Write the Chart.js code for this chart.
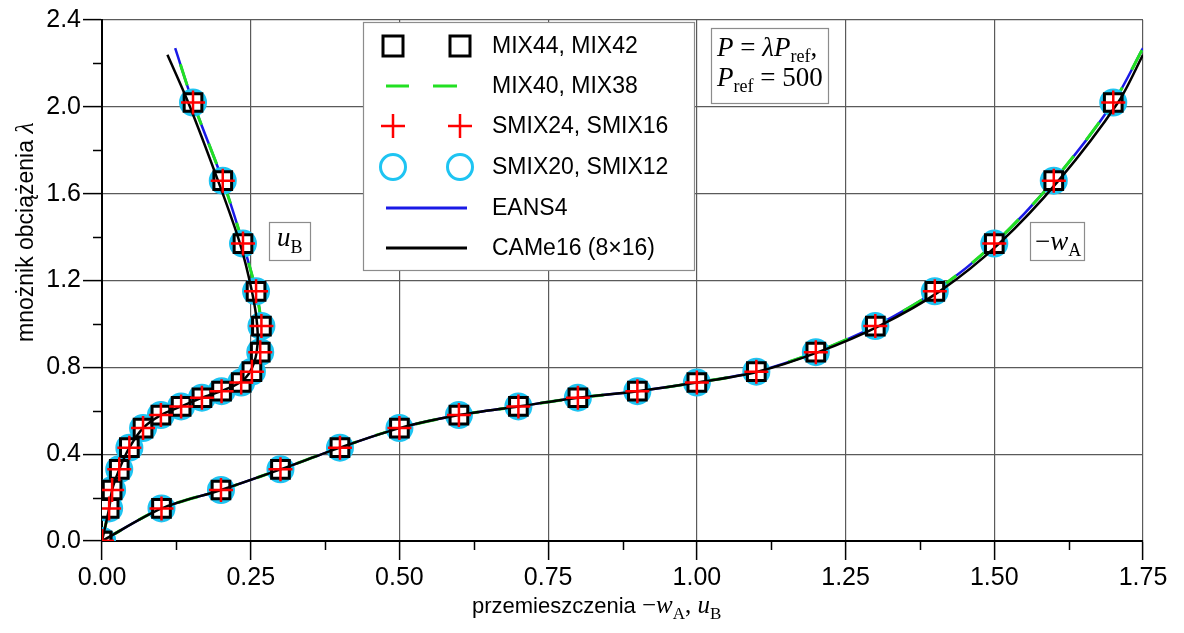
<!DOCTYPE html>
<html>
<head>
<meta charset="utf-8">
<script src="https://cdn.jsdelivr.net/npm/chart.js@4.4.0/dist/chart.umd.min.js"></script>
<style>
  html, body { margin: 0; padding: 0; background: #fff; }
</style>
</head>
<body>
<canvas id="wykres" width="1184" height="633"></canvas>
<script>
// mnożnik obciążenia w punktach pomiarowych (wspólny dla obu krzywych)
const lambda = [0, 0.15, 0.235, 0.33, 0.43, 0.52, 0.58, 0.62, 0.66, 0.69, 0.73, 0.78, 0.87, 0.99, 1.15, 1.37, 1.66, 2.02];
// przemieszczenia -wA i uB w tych punktach
const wA = [0, 0.1, 0.2, 0.3, 0.4, 0.5, 0.6, 0.7, 0.8, 0.9, 1.0, 1.1, 1.2, 1.3, 1.4, 1.5, 1.6, 1.7];
const uB = [0, 0.012, 0.017, 0.029, 0.046, 0.069, 0.099, 0.133, 0.168, 0.201, 0.234, 0.252, 0.266, 0.268, 0.259, 0.237, 0.203, 0.153];

// EANS4 / MIX40 - ta sama ścieżka, przedłużona do końca wykresu
const lambdaEans = [0, 0.15, 0.235, 0.33, 0.43, 0.52, 0.58, 0.62, 0.66, 0.69, 0.73, 0.78, 0.87, 0.99, 1.15, 1.37, 1.66, 2.02, 2.27];
const wAEans = [0, 0.1, 0.2, 0.3, 0.4, 0.5, 0.6, 0.7, 0.8, 0.9, 1.0, 1.1, 1.2, 1.3, 1.4, 1.5, 1.6, 1.7, 1.75];
const uBEans = [0, 0.012, 0.017, 0.029, 0.046, 0.069, 0.099, 0.133, 0.168, 0.201, 0.234, 0.252, 0.266, 0.268, 0.259, 0.237, 0.203, 0.153, 0.123];

// CAMe16 (8x16)
const lambdaCam = [0, 0.15, 0.235, 0.33, 0.43, 0.52, 0.58, 0.62, 0.66, 0.69, 0.73, 0.78, 0.87, 0.99, 1.15, 1.37, 1.66, 2.02, 2.24];
const wACam = [0, 0.1, 0.2, 0.3, 0.4, 0.5, 0.6, 0.7, 0.8, 0.9, 1.0, 1.102, 1.204, 1.306, 1.408, 1.508, 1.608, 1.708, 1.75];
const uBCam = [0, 0.012, 0.017, 0.029, 0.046, 0.069, 0.099, 0.133, 0.168, 0.200, 0.232, 0.249, 0.260, 0.261, 0.252, 0.232, 0.195, 0.145, 0.110];

// podziałki osi
const xTicks = [0, 0.25, 0.5, 0.75, 1.0, 1.25, 1.5, 1.75];
const yTicks = [0, 0.4, 0.8, 1.2, 1.6, 2.0, 2.4];
const xMinor = [0.125, 0.375, 0.625, 0.875, 1.125, 1.375, 1.625];
const yMinor = [0.2, 0.6, 1.0, 1.4, 1.8, 2.2];

const legendLabels = ["MIX44, MIX42", "MIX40, MIX38", "SMIX24, SMIX16", "SMIX20, SMIX12", "EANS4", "CAMe16 (8×16)"];

const SANS = '"Liberation Sans", Arial, sans-serif';
const SERIF = '"Liberation Serif", "Times New Roman", serif';
const CYJAN = "#1ec4f2";

function pary(xs, ys) {
  return xs.map((x, i) => ({ x: x, y: ys[i] }));
}

function punkty(label, xs, style, extra) {
  return Object.assign({
    label: label,
    data: pary(xs, lambda),
    showLine: false,
    pointStyle: style
  }, extra);
}

function linia(label, xs, ys, extra) {
  return Object.assign({
    label: label,
    data: pary(xs, ys),
    showLine: true,
    pointRadius: 0,
    tension: 0.3,
    fill: false
  }, extra);
}

const kwadrat = { pointRadius: 12.5, borderColor: "#000", backgroundColor: "#fff", pointBorderWidth: 3, borderWidth: 3, order: 3 };
const kolko = { pointRadius: 12.5, borderColor: CYJAN, backgroundColor: CYJAN, pointBorderWidth: 3, borderWidth: 3, order: 4 };
const krzyzyk = { pointRadius: 12, borderColor: "#ff0000", backgroundColor: "#ff0000", pointBorderWidth: 2.5, borderWidth: 2.5, order: 0 };

const datasets = [
  punkty("SMIX20 -wA", wA, "circle", kolko),
  punkty("SMIX12 uB", uB, "circle", kolko),
  linia("EANS4 -wA", wAEans, lambdaEans, { borderColor: "#1a1ae6", borderWidth: 2.5, order: 6 }),
  linia("EANS4 uB", uBEans, lambdaEans, { borderColor: "#1a1ae6", borderWidth: 2.5, order: 6 }),
  linia("MIX40 -wA", wAEans, lambdaEans, { borderColor: "#22e022", borderWidth: 3, borderDash: [22, 20], order: 5 }),
  linia("MIX38 uB", uBEans, lambdaEans, { borderColor: "#22e022", borderWidth: 3, borderDash: [22, 20], order: 5 }),
  punkty("MIX44 -wA", wA, "rect", kwadrat),
  punkty("MIX42 uB", uB, "rect", kwadrat),
  linia("CAMe16 -wA", wACam, lambdaCam, { borderColor: "#000", borderWidth: 2.5, order: 1 }),
  linia("CAMe16 uB", uBCam, lambdaCam, { borderColor: "#000", borderWidth: 2.5, order: 1 }),
  punkty("SMIX24 -wA", wA, "cross", krzyzyk),
  punkty("SMIX16 uB", uB, "cross", krzyzyk)
];

// rysuje tekst złożony z kawałków (kursywa, indeksy dolne)
function tekst(ctx, x, y, czesci) {
  czesci.forEach(c => {
    ctx.font = c.font;
    ctx.fillText(c.t, x, y + (c.dy || 0));
    x += ctx.measureText(c.t).width;
  });
}

function ramka(ctx, x, y, w, h) {
  ctx.save();
  ctx.fillStyle = "#fff";
  ctx.fillRect(x, y, w, h);
  ctx.strokeStyle = "#8c8c8c";
  ctx.lineWidth = 1.2;
  ctx.strokeRect(x + 0.5, y + 0.5, w, h);
  ctx.restore();
}

const dodatki = {
  id: "dodatki",
  afterDraw(chart) {
    const ctx = chart.ctx;
    const sx = chart.scales.x, sy = chart.scales.y;
    const a = chart.chartArea;
    ctx.save();

    // podziałka pomocnicza
    ctx.strokeStyle = "#000";
    ctx.lineWidth = 1.5;
    ctx.beginPath();
    xMinor.forEach(v => {
      const px = Math.round(sx.getPixelForValue(v)) + 0.5;
      ctx.moveTo(px, a.bottom);
      ctx.lineTo(px, a.bottom + 9);
    });
    yMinor.forEach(v => {
      const py = Math.round(sy.getPixelForValue(v)) + 0.5;
      ctx.moveTo(a.left, py);
      ctx.lineTo(a.left - 9, py);
    });
    ctx.stroke();

    // tytuły osi
    ctx.fillStyle = "#000";
    ctx.textBaseline = "alphabetic";
    ctx.textAlign = "left";
    tekst(ctx, 472, 613, [
      { t: "przemieszczenia ", font: "22px " + SANS },
      { t: "−", font: "25px " + SERIF },
      { t: "w", font: "italic 25px " + SERIF },
      { t: "A", font: "17px " + SERIF, dy: 6 },
      { t: ", ", font: "25px " + SERIF },
      { t: "u", font: "italic 25px " + SERIF },
      { t: "B", font: "17px " + SERIF, dy: 6 }
    ]);

    ctx.save();
    ctx.translate(33, 342);
    ctx.rotate(-Math.PI / 2);
    tekst(ctx, 0, 0, [
      { t: "mnożnik obciążenia ", font: "23px " + SANS },
      { t: "λ", font: "italic 26px " + SERIF }
    ]);
    ctx.restore();

    // legenda
    ramka(ctx, 363, 22, 331, 248);
    const rzedy = [46, 86, 126, 167, 208, 248];
    const mx = [393, 460];
    rzedy.forEach((ry, i) => {
      ctx.save();
      if (i === 0) {
        ctx.strokeStyle = "#000"; ctx.lineWidth = 3;
        mx.forEach(x => ctx.strokeRect(x - 10, ry - 10, 20, 20));
      } else if (i === 1) {
        ctx.strokeStyle = "#22e022"; ctx.lineWidth = 3;
        ctx.beginPath();
        ctx.moveTo(386, ry); ctx.lineTo(409, ry);
        ctx.moveTo(433, ry); ctx.lineTo(457, ry);
        ctx.stroke();
      } else if (i === 2) {
        ctx.strokeStyle = "#ff0000"; ctx.lineWidth = 2.5;
        ctx.beginPath();
        mx.forEach(x => {
          ctx.moveTo(x - 12, ry); ctx.lineTo(x + 12, ry);
          ctx.moveTo(x, ry - 12); ctx.lineTo(x, ry + 12);
        });
        ctx.stroke();
      } else if (i === 3) {
        ctx.strokeStyle = CYJAN; ctx.lineWidth = 3;
        mx.forEach(x => { ctx.beginPath(); ctx.arc(x, ry, 12.5, 0, 2 * Math.PI); ctx.stroke(); });
      } else {
        ctx.strokeStyle = i === 4 ? "#1a1ae6" : "#000"; ctx.lineWidth = 3;
        ctx.beginPath(); ctx.moveTo(386, ry); ctx.lineTo(467, ry); ctx.stroke();
      }
      ctx.restore();
      ctx.fillStyle = "#000";
      ctx.font = "23px " + SANS;
      ctx.textBaseline = "middle";
      ctx.fillText(legendLabels[i], 492, ry + 1);
    });

    // opisy krzywych i obciążenia
    ctx.textBaseline = "alphabetic";
    ramka(ctx, 711, 28, 117, 75);
    tekst(ctx, 717, 56, [
      { t: "P", font: "italic 27px " + SERIF },
      { t: " = ", font: "27px " + SERIF },
      { t: "λP", font: "italic 27px " + SERIF },
      { t: "ref", font: "18px " + SERIF, dy: 6 },
      { t: ",", font: "27px " + SERIF }
    ]);
    tekst(ctx, 717, 86, [
      { t: "P", font: "italic 27px " + SERIF },
      { t: "ref", font: "18px " + SERIF, dy: 6 },
      { t: " = 500", font: "27px " + SERIF }
    ]);
    ramka(ctx, 269, 222, 41, 38);
    tekst(ctx, 277, 246, [
      { t: "u", font: "italic 27px " + SERIF },
      { t: "B", font: "18px " + SERIF, dy: 7 }
    ]);
    ramka(ctx, 1030, 222, 54, 38);
    tekst(ctx, 1035, 250, [
      { t: "−", font: "27px " + SERIF },
      { t: "w", font: "italic 27px " + SERIF },
      { t: "A", font: "18px " + SERIF, dy: 6 }
    ]);

    ctx.restore();
  }
};

new Chart(document.getElementById("wykres"), {
  type: "scatter",
  data: { datasets: datasets },
  options: {
    responsive: false,
    animation: false,
    layout: { padding: { left: 0, top: 20, right: 41, bottom: 0 } },
    plugins: { legend: { display: false }, tooltip: { enabled: false } },
    scales: {
      x: {
        type: "linear",
        min: 0,
        max: 1.75,
        afterBuildTicks: s => { s.ticks = xTicks.map(v => ({ value: v })); },
        afterFit: s => { s.height = 92; },
        ticks: {
          color: "#000",
          font: { family: SANS, size: 25 },
          padding: 3,
          maxRotation: 0,
          autoSkip: false,
          callback: v => v.toFixed(2)
        },
        grid: { color: "#5a5a5a", lineWidth: 1.2, tickLength: 19, tickColor: "#000", tickWidth: 1.5 },
        border: { color: "#000", width: 2 }
      },
      y: {
        type: "linear",
        min: 0,
        max: 2.4,
        afterBuildTicks: s => { s.ticks = yTicks.map(v => ({ value: v })); },
        afterFit: s => { s.width = 102; },
        ticks: {
          color: "#000",
          font: { family: SANS, size: 25 },
          padding: 2,
          autoSkip: false,
          callback: v => v.toFixed(1)
        },
        grid: { color: "#5a5a5a", lineWidth: 1.2, tickLength: 19, tickColor: "#000", tickWidth: 1.5 },
        border: { color: "#000", width: 2 }
      }
    }
  },
  plugins: [dodatki]
});
</script>
</body>
</html>
